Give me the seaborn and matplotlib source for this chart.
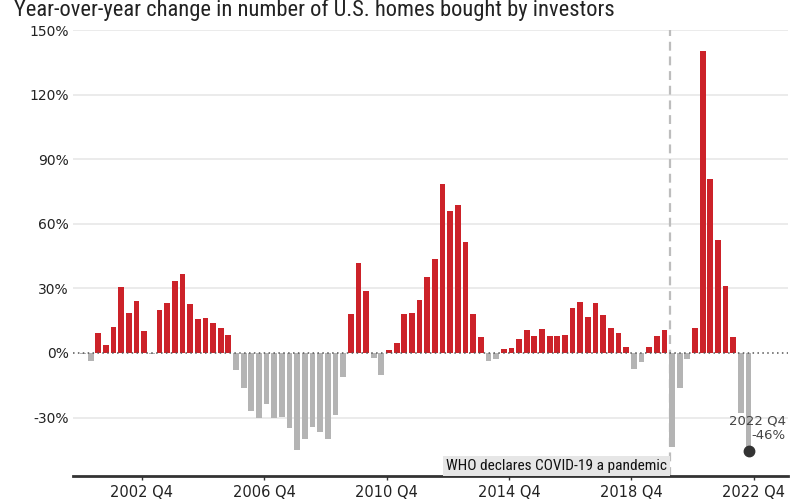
import matplotlib
matplotlib.use("Agg")
import matplotlib.pyplot as plt
import matplotlib.font_manager as fm
from matplotlib.ticker import FuncFormatter
import matplotlib.transforms as mtransforms
import seaborn as sns
import pandas as pd
import numpy as np

# ---------------- data ----------------
quarters = [f"{y} Q{q}" for y in range(2001, 2023) for q in range(1, 5)]
yoy_change = [
    -0.5, -3.9, 9.4, 3.8, 12.1, 30.7, 18.7, 24.2,          # 2001-2002
    10.2, -0.3, 20.0, 23.2, 33.5, 36.7, 22.8, 15.8,        # 2003-2004
    16.3, 13.9, 11.6, 8.4, -7.7, -16.1, -26.8, -30.1,      # 2005-2006
    -23.6, -30.1, -29.6, -34.7, -44.9, -39.8, -34.2, -36.6,  # 2007-2008
    -39.8, -28.7, -11.0, 18.1, 41.8, 28.8, -2.3, -10.2,    # 2009-2010
    1.4, 4.6, 18.1, 18.6, 24.6, 35.3, 43.7, 78.6,          # 2011-2012
    66.0, 68.8, 51.6, 18.1, 7.4, -3.7, -2.8, 1.9,          # 2013-2014
    2.3, 6.5, 10.7, 7.9, 11.2, 7.9, 7.9, 8.4,              # 2015-2016
    20.9, 23.7, 16.7, 23.2, 17.7, 11.6, 9.3, 2.8,          # 2017-2018
    -7.4, -4.2, 2.8, 7.9, 10.7, -43.7, -16.3, -2.8,        # 2019-2020
    11.6, 140.4, 80.9, 52.5, 31.1, 7.4, -28.0, -45.6,      # 2021-2022
]
tick_labels = ["2002 Q4", "2006 Q4", "2010 Q4", "2014 Q4", "2018 Q4", "2022 Q4"]
y_ticks = [-30, 0, 30, 60, 90, 120, 150]
title = "Year-over-year change in number of U.S. homes bought by investors"
event_label = "WHO declares COVID-19 a pandemic"
event_quarter = "2020 Q1"
event_day_fraction = 70 / 91  # March 11 within Q1
last_label = "2022 Q4\n-46%"

RED = "#cc2229"
GREY = "#b4b4b4"
DARK = "#333333"

# ---------------- style ----------------
sns.set_theme(style="white")
plt.rcParams["font.family"] = ["DejaVu Sans"]


def has_font(name):
    try:
        fm.findfont(fm.FontProperties(family=name), fallback_to_default=False)
        return True
    except Exception:
        return False


narrow = None
for cand in ["Liberation Sans Narrow", "DejaVu Sans Condensed", "Roboto Condensed"]:
    if has_font(cand):
        narrow = cand
        break
narrow_family = [narrow, "DejaVu Sans"] if narrow else ["DejaVu Sans"]

fig = plt.figure(figsize=(8, 5), dpi=100)
W, H = 800, 500
ax = fig.add_axes([73 / W, 24 / H, 715 / W, 446 / H])

df = pd.DataFrame({"quarter": quarters, "change": yoy_change})
bar_colors = {q: (RED if v >= 0 else GREY) for q, v in zip(quarters, yoy_change)}

sns.barplot(
    data=df, x="quarter", y="change", hue="quarter",
    palette=bar_colors, width=0.75, saturation=1, legend=False,
    ax=ax, order=quarters, hue_order=quarters, zorder=2,
    linewidth=0, edgecolor="none",
)

n = len(quarters)
ax.set_xlim(-1.31, 92.16)
ax.set_ylim(-57.2, 150.2)

# grid lines (except zero, which is dotted)
for v in y_ticks:
    if v != 0:
        ax.axhline(v, color="#e6e6e6", lw=1.1, zorder=0)
ax.axhline(0, color="#555555", lw=1.1, linestyle=(0, (1, 2.2)), zorder=3)

# y axis
ax.set_yticks(y_ticks)
ax.yaxis.set_major_formatter(FuncFormatter(lambda v, p: f"{int(v)}%"))
ax.tick_params(axis="y", length=0, pad=3, labelsize=10, labelcolor="#222222")

# x axis ticks
tick_pos = [quarters.index(t) + 0.7 for t in tick_labels]
ax.set_xticks(tick_pos)
ax.set_xticklabels(tick_labels)
ax.tick_params(axis="x", length=3, width=1, color=DARK, pad=3.5,
               labelsize=10.5, labelcolor="#222222", direction="out",
               bottom=True)
ax.set_xlabel("")
ax.set_ylabel("")

for s in ["top", "right", "left"]:
    ax.spines[s].set_visible(False)
ax.spines["bottom"].set_color(DARK)
ax.spines["bottom"].set_linewidth(2)

# pandemic line
covid_x = quarters.index(event_quarter) + event_day_fraction
ax.axvline(covid_x, color="#bdbdbd", lw=1.6, linestyle=(0, (4, 2.6)), zorder=1)

trans = mtransforms.blended_transform_factory(ax.transData, ax.transAxes)
who = ax.text(covid_x - 0.45, 0.022, event_label, transform=trans,
              ha="right", va="center", fontsize=9.5, color="#111111",
              family=narrow_family,
              bbox=dict(boxstyle="square,pad=0.18", fc="#e6e6e6", ec="none"),
              zorder=4)

# last value marker + label
last_idx = n - 1
ax.plot([last_idx], [yoy_change[-1]], marker="o", markersize=7.5,
        color=DARK, zorder=5, clip_on=False)
ax.text(0.997, -28.5, last_label,
        transform=mtransforms.blended_transform_factory(ax.transAxes, ax.transData),
        ha="right", va="top", fontsize=9.5, color="#444444", linespacing=1.15,
        zorder=6)

# title
ttl = fig.text(14 / W, 1 - 16 / H, title, fontsize=14, va="baseline",
               ha="left", color="#222222", family=narrow_family)

# fit widths to the reference
fig.canvas.draw()
r = fig.canvas.get_renderer()
for txt, target in [(ttl, 603), (who, 222)]:
    w = txt.get_window_extent(renderer=r).width
    txt.set_fontsize(txt.get_fontsize() * target / w)

fig.savefig("out.png", dpi=100)
